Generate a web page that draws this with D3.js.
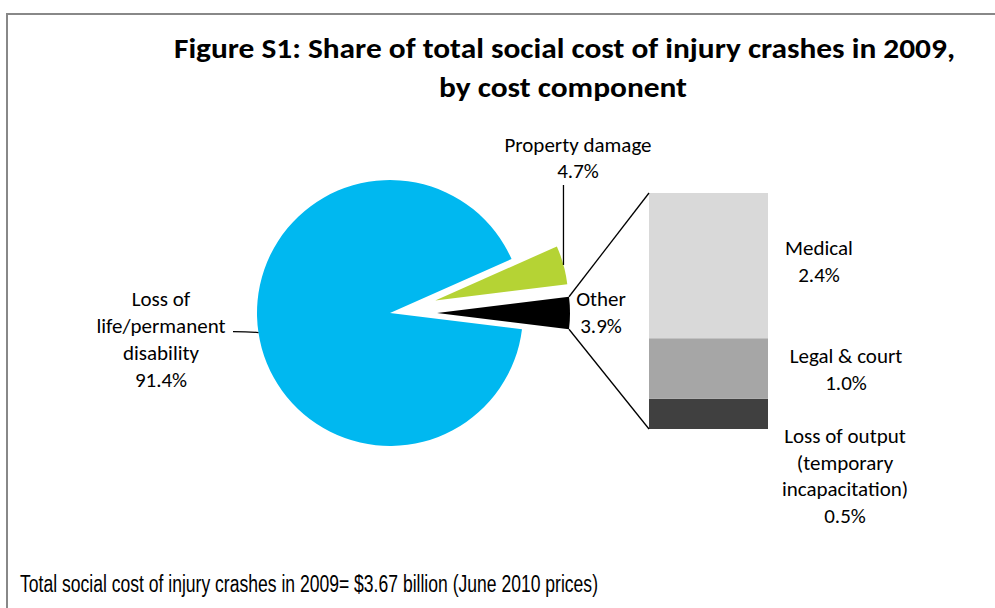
<!DOCTYPE html>
<html>
<head>
<meta charset="utf-8">
<script src="https://cdn.jsdelivr.net/npm/d3@7"></script>
<style>
  body { margin: 0; background: #fff; }
  text { font-family: Calibri, Carlito, Lato, sans-serif; fill: #000; }
</style>
</head>
<body>
<div id="root"></div>
<script>
// pie components (share of total, %)
const pieNames = ["Property damage", "Other", "Loss of life/permanent disability"];
const pieValues = [4.7, 3.9, 91.4];
const pieColors = ["#b5d334", "#000000", "#00b8f0"];

// breakdown of "Other" (bottom to top)
const barNames = ["Loss of output (temporary incapacitation)", "Legal & court", "Medical"];
const barValues = [0.5, 1.0, 2.4];
const barColors = ["#404040", "#a6a6a6", "#d9d9d9"];

const titleLines = ["Figure S1: Share of total social cost of injury crashes in 2009,", "by cost component"];
const footnote = "Total social cost of injury crashes in 2009= $3.67 billion (June 2010 prices)";

const width = 995, height = 608;
const cx = 390, cy = 313, r = 133, explode = 47;

const svg = d3.select("#root").append("svg")
    .attr("width", width)
    .attr("height", height);

svg.append("rect")
    .attr("x", 7).attr("y", 14)
    .attr("width", 1000).attr("height", 620)
    .attr("fill", "none")
    .attr("stroke", "#888")
    .attr("stroke-width", 2);

// title
svg.append("text")
    .attr("x", 174).attr("y", 58)
    .attr("textLength", 781).attr("lengthAdjust", "spacingAndGlyphs")
    .style("font-size", "28px").style("font-weight", "bold")
    .text(titleLines[0]);
svg.append("text")
    .attr("x", 563).attr("y", 97)
    .attr("text-anchor", "middle")
    .attr("textLength", 248).attr("lengthAdjust", "spacingAndGlyphs")
    .style("font-size", "28px").style("font-weight", "bold")
    .text(titleLines[1]);

// pie, "Other" slice centred at 3 o'clock
const total = d3.sum(pieValues);
const otherSpan = pieValues[1] / total * 2 * Math.PI;
const start = Math.PI / 2 - otherSpan / 2 - pieValues[0] / total * 2 * Math.PI;
const pie = d3.pie().sort(null).startAngle(start).endAngle(start + 2 * Math.PI);
const arcs = pie(pieValues);
const arc = d3.arc().innerRadius(0).outerRadius(r);

const offsetOf = (d, i) => {
    if (i === 2) return [0, 0];
    const a = (d.startAngle + d.endAngle) / 2;
    return [explode * Math.sin(a), -explode * Math.cos(a)];
};

const pieG = svg.append("g").attr("transform", `translate(${cx},${cy})`);
pieG.selectAll("path")
    .data(arcs)
    .enter().append("path")
    .attr("d", arc)
    .attr("fill", (d, i) => pieColors[i])
    .attr("transform", (d, i) => `translate(${offsetOf(d, i)})`);

const polar = (a, rad, off) => [cx + off[0] + rad * Math.sin(a), cy + off[1] - rad * Math.cos(a)];

// bar of "Other"
const barX = 649, barW = 119;
const y = d3.scaleLinear().domain([0, d3.sum(barValues)]).range([429, 193]);
const stack = [];
let acc = 0;
barValues.forEach((v, i) => { stack.push({ y0: acc, y1: acc + v, i }); acc += v; });

svg.selectAll(".bar")
    .data(stack)
    .enter().append("rect")
    .attr("class", "bar")
    .attr("x", barX).attr("width", barW)
    .attr("y", d => y(d.y1))
    .attr("height", d => y(d.y0) - y(d.y1))
    .attr("fill", d => barColors[d.i]);

// connector lines
const oOff = offsetOf(arcs[1], 1);
const pTop = polar(arcs[1].startAngle, r, oOff);
const pBot = polar(arcs[1].endAngle, r, oOff);
[[pTop, [barX, y(acc)]], [pBot, [barX, y(0)]]].forEach(([a, b]) => {
    svg.append("line")
        .attr("x1", a[0]).attr("y1", a[1])
        .attr("x2", b[0]).attr("y2", b[1])
        .attr("stroke", "#000").attr("stroke-width", 1.3);
});

const fmt = v => v.toFixed(1) + "%";

function label(lines, x, yTop, step) {
    const t = svg.append("text")
        .attr("text-anchor", "middle")
        .style("font-size", "21px");
    lines.forEach((s, k) => {
        t.append("tspan").attr("x", x).attr("y", yTop + k * step).text(s);
    });
}

// property damage label + leader
const gOff = offsetOf(arcs[0], 0);
const gMid = polar((arcs[0].startAngle + arcs[0].endAngle) / 2, r, gOff);
label(["Property damage", fmt(pieValues[0])], 578, 152, 26);
svg.append("line")
    .attr("x1", gMid[0]).attr("y1", 185)
    .attr("x2", gMid[0]).attr("y2", gMid[1])
    .attr("stroke", "#000").attr("stroke-width", 1.3);

// other label
label(["Other", fmt(pieValues[1])], 601, 306, 27);

// loss of life label + leader
const bMid = polar((arcs[2].startAngle + arcs[2].endAngle) / 2, r, [0, 0]);
label(["Loss of", "life/permanent", "disability", fmt(pieValues[2])], 161, 306, 27);
svg.append("path")
    .attr("d", `M${233},${bMid[1] - 1} Q${248},${bMid[1] - 1} ${bMid[0]},${bMid[1]}`)
    .attr("fill", "none")
    .attr("stroke", "#000").attr("stroke-width", 1.3);

// bar labels
label(["Medical", fmt(barValues[2])], 819, 255, 27);
label(["Legal & court", fmt(barValues[1])], 846, 363, 27);
label(["Loss of output", "(temporary", "incapacitation)", fmt(barValues[0])], 845, 443, 26.7);

// footnote
svg.append("text")
    .attr("x", 20).attr("y", 592)
    .attr("textLength", 578).attr("lengthAdjust", "spacingAndGlyphs")
    .style("font-family", "'Liberation Sans', Arial, sans-serif")
    .style("font-size", "23px")
    .text(footnote);
</script>
</body>
</html>
